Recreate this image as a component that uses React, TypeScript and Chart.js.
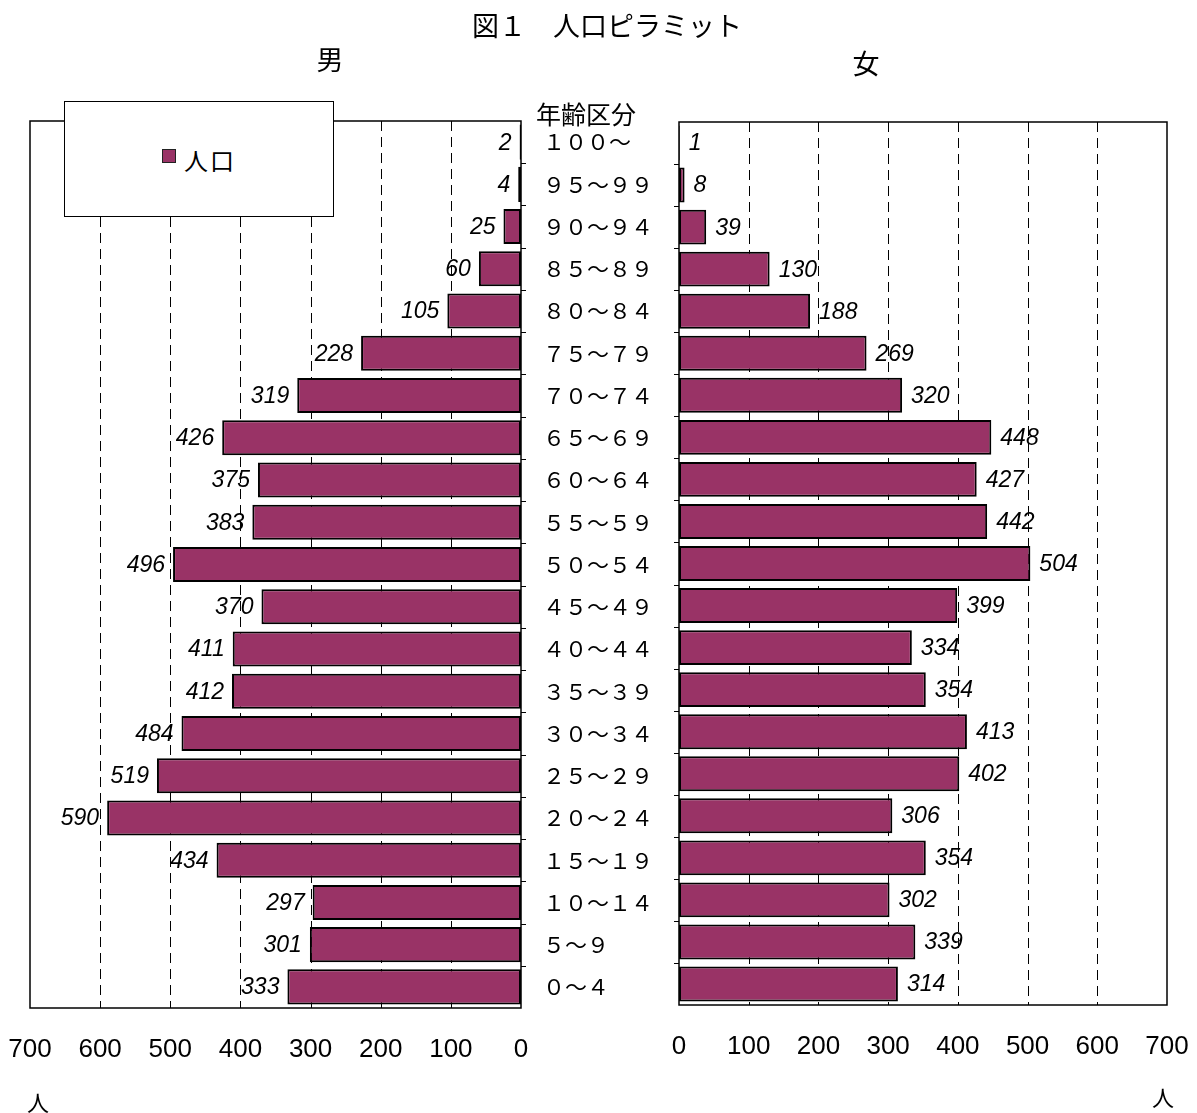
import React, { useEffect, useRef } from 'react';
import { Chart, registerables } from 'chart.js';

Chart.register(...registerables);

// Age brackets, from oldest (top row) to youngest (bottom row)
const ageGroups = [
  '１００～', '９５～９９', '９０～９４', '８５～８９', '８０～８４',
  '７５～７９', '７０～７４', '６５～６９', '６０～６４', '５５～５９',
  '５０～５４', '４５～４９', '４０～４４', '３５～３９', '３０～３４',
  '２５～２９', '２０～２４', '１５～１９', '１０～１４', '５～９', '０～４',
];

// Population by age bracket (persons)
const malePopulation = [
  2, 4, 25, 60, 105, 228, 319, 426, 375, 383, 496,
  370, 411, 412, 484, 519, 590, 434, 297, 301, 333,
];
const femalePopulation = [
  1, 8, 39, 130, 188, 269, 320, 448, 427, 442, 504,
  399, 334, 354, 413, 402, 306, 354, 302, 339, 314,
];

const axisMin = 0;
const axisMax = 700;
const axisStep = 100;
const seriesName = '人口';

const BAR_COLOR = '#993366';
const CJK = "'Noto Sans CJK JP', 'Noto Sans', sans-serif";
const LATIN = "'Liberation Sans Narrow', 'Liberation Sans', Arial, sans-serif";
const LATIN_LABEL = "'Liberation Sans', Arial, sans-serif";

const W = 1197;
const H = 1113;
const X_AXIS_H = 80;
const Y_AXIS_W = 140;

// Dashed vertical grid lines at each interior step
const dashedGrid = {
  id: 'dashedGrid',
  beforeDatasetsDraw(chart: any) {
    const { ctx, chartArea, scales } = chart;
    ctx.save();
    ctx.strokeStyle = '#000';
    ctx.lineWidth = 1;
    ctx.setLineDash([10, 6]);
    for (let v = axisMin + axisStep; v < axisMax; v += axisStep) {
      const x = Math.round(scales.x.getPixelForValue(v)) + 0.5;
      ctx.beginPath();
      ctx.moveTo(x, chartArea.top);
      ctx.lineTo(x, chartArea.bottom);
      ctx.stroke();
    }
    ctx.restore();
  },
};

// Plot frame plus short tick marks between age brackets on the value-zero edge
const frame = {
  id: 'frame',
  afterDatasetsDraw(chart: any, _args: any, opts: any) {
    const { ctx, chartArea, scales } = chart;
    const { left, right, top, bottom } = chartArea;
    ctx.save();
    ctx.strokeStyle = '#000';
    ctx.lineWidth = 1.5;
    ctx.setLineDash([]);
    ctx.strokeRect(left, top, right - left, bottom - top);
    const zeroX = scales.x.getPixelForValue(0);
    const dir = opts.side === 'right' ? -1 : 1;
    ctx.lineWidth = 1;
    const n = chart.data.labels.length;
    for (let i = 1; i < n; i++) {
      const y = Math.round((scales.y.getPixelForValue(i - 1) + scales.y.getPixelForValue(i)) / 2) + 0.5;
      ctx.beginPath();
      ctx.moveTo(zeroX, y);
      ctx.lineTo(zeroX + dir * 5, y);
      ctx.stroke();
    }
    ctx.restore();
  },
};

// Italic value labels just beyond each bar's end
const valueLabels = {
  id: 'valueLabels',
  afterDatasetsDraw(chart: any, _args: any, opts: any) {
    const { ctx } = chart;
    const meta = chart.getDatasetMeta(0);
    const values = chart.data.datasets[0].data;
    ctx.save();
    ctx.font = `italic 23px ${LATIN_LABEL}`;
    ctx.fillStyle = '#000';
    ctx.textBaseline = 'middle';
    const toLeft = opts.side === 'left';
    ctx.textAlign = toLeft ? 'right' : 'left';
    meta.data.forEach((bar: any, i: number) => {
      const x = toLeft ? bar.x - 8 : bar.x + 9;
      ctx.fillText(String(values[i]), x, bar.y + 1);
    });
    ctx.restore();
  },
};

function makeConfig(side: 'left' | 'right', values: number[]): any {
  const isLeft = side === 'left';
  return {
    type: 'bar',
    data: {
      labels: ageGroups,
      datasets: [
        {
          label: seriesName,
          data: values,
          backgroundColor: BAR_COLOR,
          borderColor: '#000',
          borderWidth: 2,
          borderSkipped: false,
          categoryPercentage: 1,
          barPercentage: 0.83,
        },
      ],
    },
    options: {
      indexAxis: 'y',
      responsive: false,
      animation: false,
      events: [],
      layout: {
        padding: isLeft
          ? { left: 30, right: W - 521 - Y_AXIS_W, top: 121, bottom: H - 1008 - X_AXIS_H }
          : { left: 679, right: W - 1167, top: 122, bottom: H - 1005 - X_AXIS_H },
      },
      plugins: {
        legend: { display: false },
        tooltip: { enabled: false },
        title: { display: false },
        frame: { side },
        valueLabels: { side },
      },
      scales: {
        x: {
          type: 'linear',
          position: 'bottom',
          reverse: isLeft,
          min: axisMin,
          max: axisMax,
          grid: { display: false, drawTicks: false },
          border: { display: false },
          ticks: {
            stepSize: axisStep,
            autoSkip: false,
            maxRotation: 0,
            padding: 26,
            color: '#000',
            font: { family: LATIN, size: 26 },
          },
          afterFit(scale: any) {
            scale.height = X_AXIS_H;
            scale.paddingLeft = 0;
            scale.paddingRight = 0;
          },
        },
        y: {
          type: 'category',
          position: isLeft ? 'right' : 'left',
          grid: { display: false, drawTicks: false },
          border: { display: false },
          ticks: {
            display: isLeft,
            autoSkip: false,
            padding: 22,
            color: '#000',
            font: { family: CJK, size: 22 },
          },
          afterFit(scale: any) {
            scale.width = isLeft ? Y_AXIS_W : 0;
            scale.paddingTop = 0;
            scale.paddingBottom = 0;
          },
        },
      },
    },
    plugins: [dashedGrid, frame, valueLabels],
  };
}

function PyramidHalf({ side, values }: { side: 'left' | 'right'; values: number[] }) {
  const ref = useRef<HTMLCanvasElement | null>(null);
  useEffect(() => {
    if (!ref.current) return;
    const chart = new Chart(ref.current, makeConfig(side, values));
    return () => chart.destroy();
  }, [side, values]);
  return (
    <canvas
      ref={ref}
      width={W}
      height={H}
      style={{ position: 'absolute', left: 0, top: 0, width: W, height: H }}
    />
  );
}

function Text({ x, y, size, children }: { x: number; y: number; size: number; children: React.ReactNode }) {
  return (
    <div
      style={{
        position: 'absolute',
        left: x,
        top: y,
        transform: 'translate(-50%, -50%)',
        fontFamily: CJK,
        fontSize: size,
        lineHeight: 1,
        whiteSpace: 'nowrap',
        color: '#000',
        zIndex: 2,
      }}
    >
      {children}
    </div>
  );
}

export default function App() {
  return (
    <div
      style={{
        position: 'absolute',
        left: 0,
        top: 0,
        width: W,
        height: H,
        background: '#fff',
        overflow: 'hidden',
      }}
    >
      <PyramidHalf side="left" values={malePopulation} />
      <PyramidHalf side="right" values={femalePopulation} />

      <Text x={607} y={24} size={27}>図１　人口ピラミット</Text>
      <Text x={330} y={58} size={27}>男</Text>
      <Text x={866} y={62} size={27}>女</Text>
      <Text x={586} y={113} size={25}>年齢区分</Text>
      <Text x={38} y={1101} size={22}>人</Text>
      <Text x={1163} y={1096} size={22}>人</Text>

      <div
        style={{
          position: 'absolute',
          left: 64,
          top: 101,
          width: 268,
          height: 114,
          border: '1px solid #000',
          background: '#fff',
          zIndex: 3,
          display: 'flex',
          alignItems: 'center',
          justifyContent: 'center',
          fontFamily: CJK,
          fontSize: 24,
          color: '#000',
        }}
      >
        <span
          style={{
            display: 'inline-block',
            width: 12,
            height: 12,
            background: BAR_COLOR,
            border: '1.5px solid #222',
            marginRight: 8,
            marginTop: -6,
          }}
        />
        <span style={{ letterSpacing: 2 }}>{seriesName}</span>
      </div>
    </div>
  );
}
